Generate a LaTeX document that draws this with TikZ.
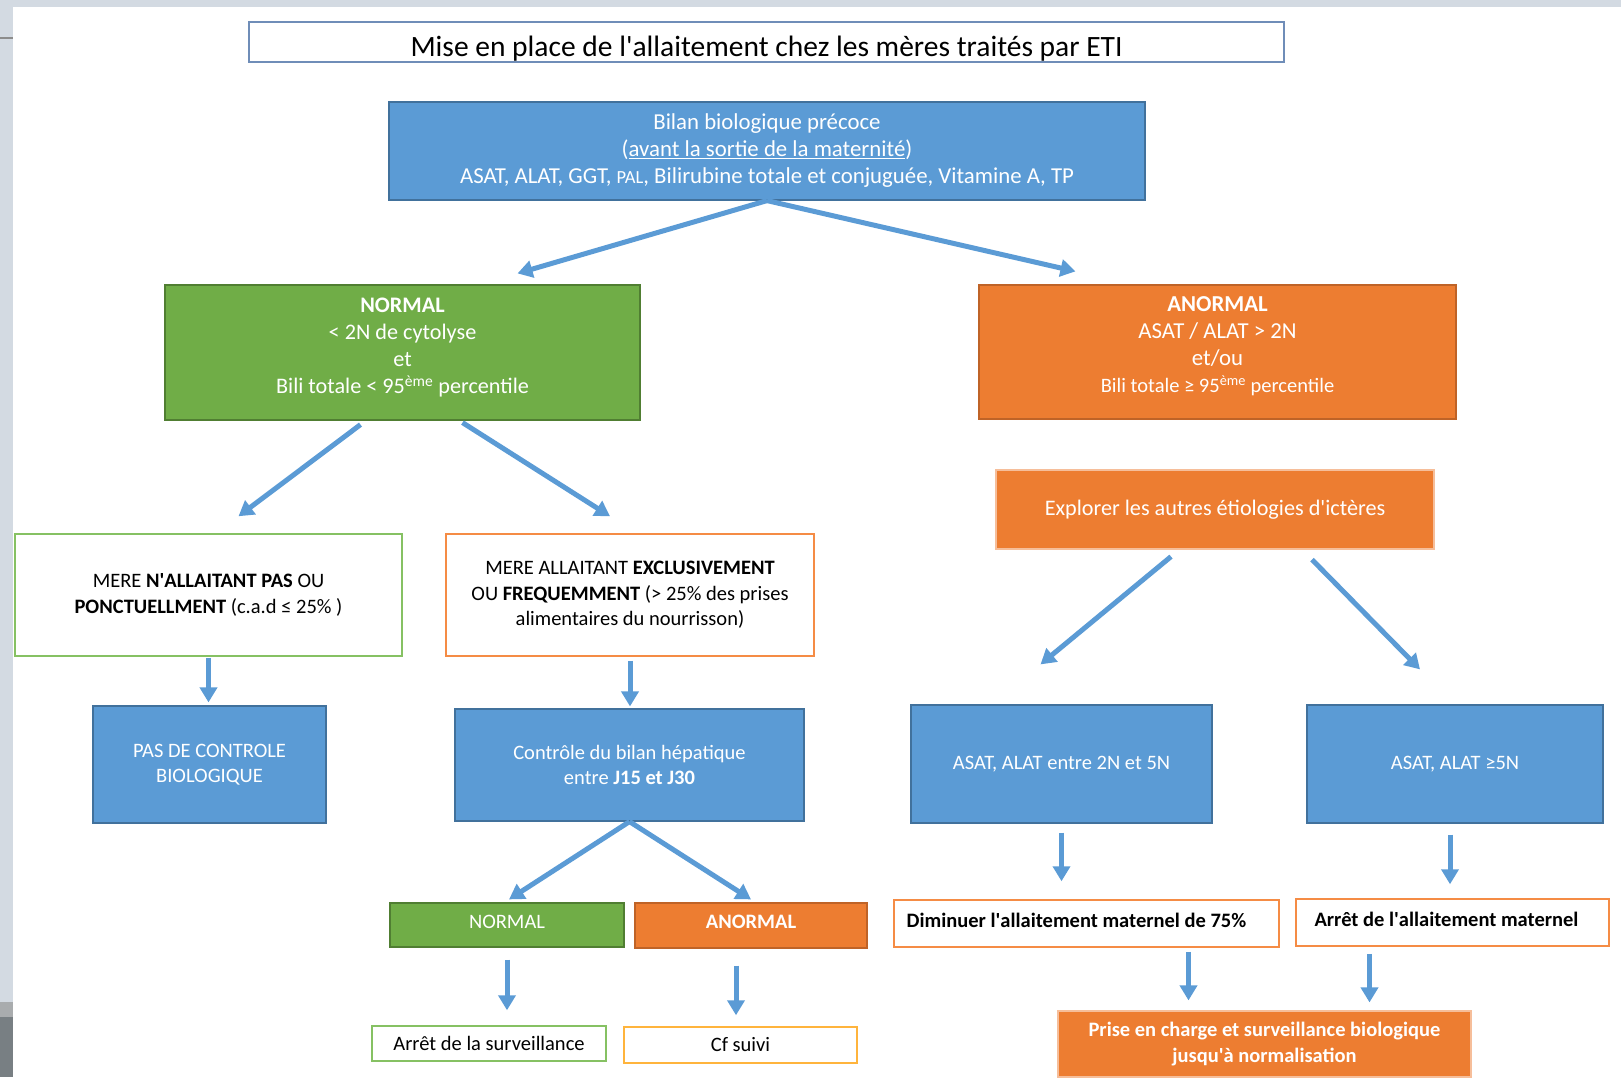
\documentclass[tikz,border=0pt]{standalone}
\usepackage{fontspec}
\setmainfont{Carlito}
\usetikzlibrary{arrows.meta}
\definecolor{bleuF}{HTML}{5B9BD5}
\definecolor{bleuL}{HTML}{41719C}
\definecolor{vertF}{HTML}{70AD47}
\definecolor{vertL}{HTML}{507E32}
\definecolor{vertC}{HTML}{86C163}
\definecolor{orangeF}{HTML}{ED7D31}
\definecolor{orangeL}{HTML}{BF6327}
\definecolor{orangeC}{HTML}{F58C45}
\definecolor{orangeP}{HTML}{F6BE9A}
\definecolor{jaune}{HTML}{FFB43C}
\definecolor{titreL}{HTML}{6F8DB8}
\definecolor{cadre}{HTML}{D3DAE2}
\newcommand{\ap}{\textquotesingle}
\newcommand{\fa}{\fontsize{22.8}{27}\selectfont}
\newcommand{\fc}{\fontsize{22.2}{27}\selectfont}
\newcommand{\fb}{\fontsize{20.5}{25.5}\selectfont}

\begin{document}
\begin{tikzpicture}[x=1pt,y=-1pt,
  boite/.style={inner sep=0pt,align=center,line width=1.2pt,font=\fb},
  bleu/.style={boite,fill=bleuF,draw=bleuL,text=white},
  vert/.style={boite,fill=vertF,draw=vertL,text=white},
  orange/.style={boite,fill=orangeF,draw=orangeL,text=white},
  orangeclair/.style={boite,fill=orangeF,draw=orangeP,text=white},
  blancvert/.style={boite,fill=white,draw=vertC,line width=1.5pt},
  blancorange/.style={boite,fill=white,draw=orangeC,line width=1.5pt},
  fleche/.style={draw=bleuF,line width=5pt,-{Triangle[length=15pt,width=17pt]}}]
\useasboundingbox (0,0) rectangle (1621,1077);
\clip (0,0) rectangle (1621,1077);
\fill[cadre] (0,0) rectangle (1621,7);
\fill[cadre] (0,0) rectangle (13,1077);
\fill[black!45] (0,37) rectangle (13,39);
\fill[cyan!10!black!40] (0,1002) rectangle (13,1017);
\fill[cyan!15!black!65] (0,1017) rectangle (13,1077);
\node[boite,draw=titreL,minimum width=1035pt,minimum height=40pt,text height=28pt,text depth=0pt,font=\fontsize{29.5}{35}\selectfont] (titre) at (766.5,42) {Mise en place de l\ap allaitement chez les mères traités par ETI};
\node[bleu,minimum width=756pt,minimum height=98pt,font=\fa] (bilan) at (767,151) {Bilan biologique précoce\\(\underline{avant la sortie de la maternité})\\ASAT, ALAT, GGT, {\fontsize{18.5}{27}\selectfont PAL}, Bilirubine totale et conjuguée, Vitamine A, TP};
\node[vert,minimum width=475pt,minimum height=135pt,text depth=13pt,font=\fc] (normal) at (402.5,352.5) {\textbf{NORMAL}\\< 2N de cytolyse\\et\\Bili totale < 95\textsuperscript{ème} percentile};
\node[orange,minimum width=477pt,minimum height=134pt,text depth=14pt,font=\fa] (anormal) at (1217.5,352) {\textbf{ANORMAL}\\ASAT / ALAT > 2N\\et/ou\\{\fb Bili totale ≥ 95\textsuperscript{ème} percentile}};
\node[orangeclair,minimum width=438pt,minimum height=79pt,font=\fc] (explorer) at (1215,509.5) {Explorer les autres étiologies d\ap ictères};
\node[blancvert,minimum width=387pt,minimum height=122pt] (nonall) at (208.5,595) {MERE \textbf{N\ap ALLAITANT PAS} OU\\\textbf{PONCTUELLMENT} (c.a.d ≤ 25\% )};
\node[blancorange,minimum width=368pt,minimum height=122pt] (allait) at (630,595) {MERE ALLAITANT \textbf{EXCLUSIVEMENT}\\OU \textbf{FREQUEMMENT} (> 25\% des prises\\alimentaires du nourrisson)};
\node[bleu,minimum width=233pt,minimum height=117pt] (pasctrl) at (209.5,764.5) {PAS DE CONTROLE\\BIOLOGIQUE};
\node[bleu,minimum width=349pt,minimum height=112pt] (ctrl) at (629.5,765) {Contrôle du bilan hépatique\\entre \textbf{J15 et J30}};
\node[bleu,minimum width=301pt,minimum height=118pt] (asatA) at (1061.5,764) {ASAT, ALAT entre 2N et 5N};
\node[bleu,minimum width=296pt,minimum height=118pt] (asatB) at (1455,764) {ASAT, ALAT ≥5N};
\node[vert,minimum width=234pt,minimum height=44pt,text depth=7pt] (normdeux) at (507,925) {NORMAL};
\node[orange,minimum width=232pt,minimum height=45pt,text depth=7pt] (anormdeux) at (751,925.5) {\textbf{ANORMAL}};
\node[blancorange,minimum width=385pt,minimum height=47pt,text depth=7pt] (diminuer) at (1086.5,923.5) {\textbf{Diminuer l\ap allaitement maternel de 75\%}\hspace*{20pt}};
\node[blancorange,minimum width=313pt,minimum height=47pt,text depth=7pt] (arretall) at (1452.5,922.5) {\textbf{Arrêt de l\ap allaitement maternel}\hspace*{12pt}};
\node[blancvert,minimum width=234pt,minimum height=35pt] (arretsurv) at (489,1043.5) {Arrêt de la surveillance};
\node[boite,fill=white,draw=jaune,line width=1.5pt,minimum width=233pt,minimum height=36pt] (cfsuivi) at (740.5,1045) {Cf suivi};
\node[orangeclair,minimum width=413pt,minimum height=66pt] (prise) at (1264.5,1044) {\textbf{Prise en charge et surveillance biologique}\\\textbf{jusqu\ap à normalisation}};
\coordinate (pa) at ([xshift=-76pt]prise.north);
\coordinate (pb) at ([xshift=105pt]prise.north);
\coordinate (pc) at ([xshift=-5pt]asatB.south);
\coordinate (pd) at ([xshift=-4.5pt]cfsuivi.north);
\draw[fleche] (bilan.south) -- ([xshift=115pt,yshift=11pt]normal.north);
\draw[fleche] (bilan.south) -- ([xshift=-142pt,yshift=13pt]anormal.north);
\draw[fleche] ([xshift=-42pt,yshift=-4pt]normal.south) -- ([xshift=30pt,yshift=17pt]nonall.north);
\draw[fleche] ([xshift=60pt,yshift=-2pt]normal.south) -- ([xshift=-20pt,yshift=17pt]allait.north);
\draw[fleche,shorten <=1pt,shorten >=3pt] (nonall.south) -- (nonall.south |- pasctrl.north);
\draw[fleche,shorten <=4pt,shorten >=2pt] (allait.south) -- (allait.south |- ctrl.north);
\draw[fleche] (ctrl.south) -- ([xshift=2pt,yshift=3pt]normdeux.north);
\draw[fleche] (ctrl.south) -- ([yshift=3pt]anormdeux.north);
\draw[fleche,shorten <=12pt,shorten >=15pt] (normdeux.south) -- (normdeux.south |- arretsurv.north);
\draw[fleche,shorten <=17pt,shorten >=11pt] (pd |- anormdeux.south) -- (pd);
\draw[fleche] ([xshift=-44pt,yshift=-7pt]explorer.south) -- ([xshift=-21pt,yshift=40pt]asatA.north);
\draw[fleche] ([xshift=97pt,yshift=-10pt]explorer.south) -- ([xshift=-35pt,yshift=35pt]asatB.north);
\draw[fleche,shorten <=9pt,shorten >=18pt] (asatA.south) -- (asatA.south |- diminuer.north);
\draw[fleche,shorten <=11pt,shorten >=14pt] (pc) -- (pc |- arretall.north);
\draw[fleche,shorten <=4pt,shorten >=10pt] (pa |- diminuer.south) -- (pa);
\draw[fleche,shorten <=7pt,shorten >=8pt] (pb |- arretall.south) -- (pb);
\end{tikzpicture}
\end{document}
